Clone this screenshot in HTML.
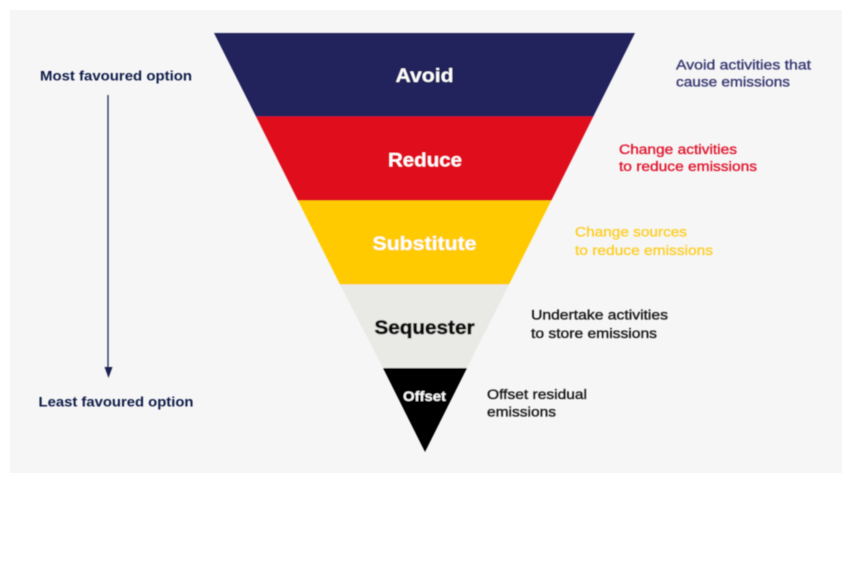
<!DOCTYPE html>
<html>
<head>
<meta charset="utf-8">
<style>
html,body{margin:0;padding:0;background:#fff;width:847px;height:586px;overflow:hidden}
svg{display:block}
text{font-family:"Liberation Sans",sans-serif}
.t{font-size:13.5px;font-weight:400;stroke-width:.35px}
.h{font-weight:700;text-anchor:middle}
</style>
</head>
<body>
<svg width="847" height="586" viewBox="0 0 847 586" xmlns="http://www.w3.org/2000/svg">
<defs><filter id="b" x="-5%" y="-5%" width="110%" height="110%"><feGaussianBlur stdDeviation="0.5"/></filter></defs>
<rect x="10" y="10" width="832" height="463" fill="#f6f6f7"/>
<g filter="url(#b)">
<polygon points="214,33 635,33 593.300,116.500 256,116.500" fill="#20205c"/>
<polygon points="256,116.500 593.300,116.500 551.300,200.500 298,200.500" fill="#e00a1a"/>
<polygon points="298,200.500 551.300,200.500 509,284.500 340,284.500" fill="#ffcb05"/>
<polygon points="340,284.500 509,284.500 467,368 383,368" fill="#e9eae6"/>
<polygon points="383,368 467,368 425,452" fill="#000"/>
<line x1="108" y1="95" x2="108" y2="369" stroke="#1f2a55" stroke-width="1.3"/>
<polygon points="104.500,367 112.500,367 108.500,378" fill="#1a2350"/>

<text class="h" x="424.500" y="82" font-size="19" fill="#fff" textLength="58" lengthAdjust="spacingAndGlyphs">Avoid</text>
<text class="h" x="425" y="166.500" font-size="19" fill="#fff" textLength="74" lengthAdjust="spacingAndGlyphs">Reduce</text>
<text class="h" x="424.500" y="250" font-size="19" fill="#fff" textLength="104" lengthAdjust="spacingAndGlyphs">Substitute</text>
<text class="h" x="424.500" y="334" font-size="19" fill="#111" stroke="#111" stroke-width=".7" textLength="100" lengthAdjust="spacingAndGlyphs">Sequester</text>
<text class="h" x="424.500" y="401" font-size="13.500" fill="#fff" textLength="43" lengthAdjust="spacingAndGlyphs">Offset</text>

<text x="40" y="80.500" font-size="13.500" font-weight="700" fill="#0f1c47" textLength="152" lengthAdjust="spacingAndGlyphs">Most favoured option</text>
<text x="38.500" y="406.500" font-size="13.500" font-weight="700" fill="#0f1c47" textLength="155" lengthAdjust="spacingAndGlyphs">Least favoured option</text>

<g fill="#3a3a72" stroke="#3a3a72">
<text class="t" x="676" y="69.500" textLength="135" lengthAdjust="spacingAndGlyphs">Avoid activities that</text>
<text class="t" x="676" y="86.500" textLength="114" lengthAdjust="spacingAndGlyphs">cause emissions</text>
</g>
<g fill="#e0182d" stroke="#e0182d">
<text class="t" x="619" y="154" textLength="118" lengthAdjust="spacingAndGlyphs">Change activities</text>
<text class="t" x="619" y="171" textLength="138" lengthAdjust="spacingAndGlyphs">to reduce emissions</text>
</g>
<g fill="#fdcf2a" stroke="#fdcf2a">
<text class="t" x="575" y="236.500" textLength="112" lengthAdjust="spacingAndGlyphs">Change sources</text>
<text class="t" x="575" y="255" textLength="138" lengthAdjust="spacingAndGlyphs">to reduce emissions</text>
</g>
<g fill="#1a1a1a" stroke="#1a1a1a">
<text class="t" x="531" y="319.500" textLength="137" lengthAdjust="spacingAndGlyphs">Undertake activities</text>
<text class="t" x="531" y="338" textLength="126" lengthAdjust="spacingAndGlyphs">to store emissions</text>
<text class="t" x="487" y="399" textLength="100" lengthAdjust="spacingAndGlyphs">Offset residual</text>
<text class="t" x="487" y="416.500" textLength="69" lengthAdjust="spacingAndGlyphs">emissions</text>
</g>
</g>
</svg>
</body>
</html>
